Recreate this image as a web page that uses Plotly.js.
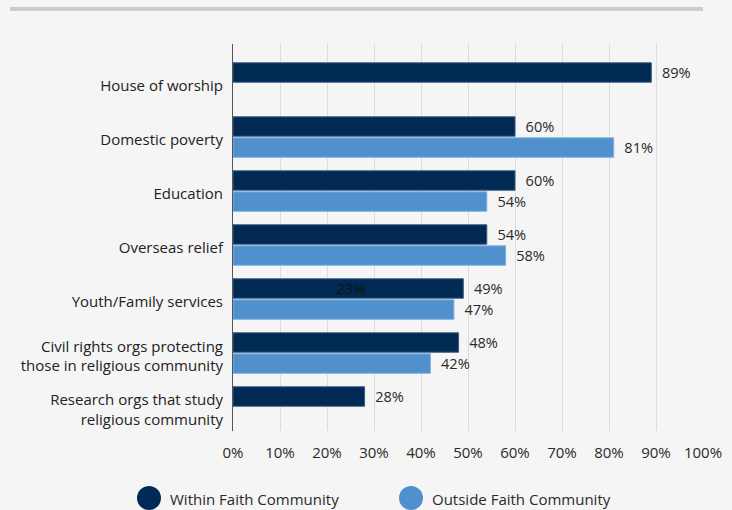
<!DOCTYPE html>
<html>
<head>
<meta charset="utf-8">
<script src="https://cdn.plot.ly/plotly-3.0.1.min.js"></script>
<style>html,body{margin:0;padding:0;background:#f5f5f5;}#chart{width:732px;height:510px;}</style>
</head>
<body>
<div id="chart"></div>
<script>
var categories = ['House of worship', 'Domestic poverty', 'Education', 'Overseas relief', 'Youth/Family services', 'Civil rights orgs protecting<br>those in religious community', 'Research orgs that study<br>religious community'];
var withinValues = [89, 60, 60, 54, 49, 48, 28];
var outsideValues = [null, 81, 54, 58, 47, 42, null];
var seriesNames = ['Within Faith Community', 'Outside Faith Community'];
var xTickValues = [0, 10, 20, 30, 40, 50, 60, 70, 80, 90, 100];
var xTickLabels = ['0%', '10%', '20%', '30%', '40%', '50%', '60%', '70%', '80%', '90%', '100%'];
var strayLabel = {text: '23%', x: 25, category: categories[4]};

var darkColor = '#002a54';
var lightColor = '#4f90cd';
var font = '"Open Sans", "DejaVu Sans", sans-serif';

function labels(vals) { return vals.map(function (v) { return v == null ? '' : '\u00a0\u00a0' + v + '%'; }); }

var traces = [
  {type: 'bar', orientation: 'h', name: seriesNames[0], y: categories, x: withinValues,
   width: 0.36, offset: -0.43,
   marker: {color: darkColor, line: {color: '#3d5f84', width: 1}},
   text: labels(withinValues), textposition: 'outside', cliponaxis: false,
   textfont: {family: font, size: 15, color: '#2a2a2a'}, showlegend: false, hoverinfo: 'skip'},
  {type: 'bar', orientation: 'h', name: seriesNames[1], y: categories, x: outsideValues,
   width: 0.36, offset: -0.04,
   marker: {color: lightColor, line: {color: '#7fb0df', width: 1}},
   text: labels(outsideValues), textposition: 'outside', cliponaxis: false,
   textfont: {family: font, size: 15, color: '#2a2a2a'}, showlegend: false, hoverinfo: 'skip'}
];

var legendY = (431 - 499) / 387;
var layout = {
  width: 732, height: 510,
  paper_bgcolor: '#f5f5f5', plot_bgcolor: '#f5f5f5',
  margin: {l: 233, r: 29, t: 44, b: 79},
  barmode: 'overlay',
  font: {family: font, size: 15, color: '#2a2a2a'},
  showlegend: false,
  xaxis: {range: [0, 100], tickvals: xTickValues, ticktext: xTickLabels, showgrid: true,
          gridcolor: '#dcdcdc', gridwidth: 1, zeroline: false, showline: false,
          ticks: 'outside', ticklen: 8, tickcolor: 'rgba(0,0,0,0)',
          tickfont: {family: font, size: 15, color: '#2a2a2a'}, fixedrange: true},
  yaxis: {type: 'category', categoryorder: 'array', categoryarray: categories,
          range: [6.389, -0.778], showline: true, linecolor: '#555', linewidth: 1,
          showgrid: false, zeroline: false, ticks: 'outside', ticklen: 6, tickcolor: 'rgba(0,0,0,0)',
          tickfont: {family: font, size: 15, color: '#222'}, fixedrange: true},
  shapes: [
    {type: 'line', xref: 'paper', yref: 'paper', x0: (10 - 233) / 470, x1: 1.0, y0: (431 - 9) / 387, y1: (431 - 9) / 387,
     line: {color: '#cccccc', width: 4}},
    {type: 'circle', xref: 'paper', yref: 'paper', xsizemode: 'pixel', ysizemode: 'pixel',
     xanchor: (149 - 233) / 470, yanchor: (431 - 498) / 387, x0: -12, x1: 12, y0: -12, y1: 12,
     fillcolor: darkColor, line: {width: 0}},
    {type: 'circle', xref: 'paper', yref: 'paper', xsizemode: 'pixel', ysizemode: 'pixel',
     xanchor: (411 - 233) / 470, yanchor: (431 - 498) / 387, x0: -12, x1: 12, y0: -12, y1: 12,
     fillcolor: lightColor, line: {width: 0}}
  ],
  annotations: [
    {xref: 'paper', yref: 'paper', x: (168 - 233) / 470, y: legendY, xanchor: 'left', yanchor: 'middle',
     text: seriesNames[0], showarrow: false, font: {family: font, size: 15, color: '#2a2a2a'}},
    {xref: 'paper', yref: 'paper', x: (430 - 233) / 470, y: legendY, xanchor: 'left', yanchor: 'middle',
     text: seriesNames[1], showarrow: false, font: {family: font, size: 15, color: '#2a2a2a'}},
    {xref: 'x', yref: 'y', x: strayLabel.x, y: strayLabel.category, yshift: 14, text: strayLabel.text,
     showarrow: false, font: {family: font, size: 15, color: '#111'}}
  ]
};

Plotly.newPlot('chart', traces, layout, {displayModeBar: false, staticPlot: true});
</script>
</body>
</html>
